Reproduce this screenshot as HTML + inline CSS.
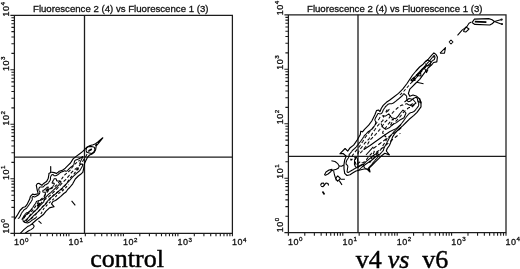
<!DOCTYPE html>
<html><head><meta charset="utf-8"><style>
html,body{margin:0;padding:0;background:#fff;width:520px;height:269px;overflow:hidden}
svg{display:block;filter:grayscale(1)}
.lb{font-family:"Liberation Sans",sans-serif;font-size:9px;letter-spacing:0.5px;fill:#111;stroke:#111;stroke-width:0.3px}
.sp{font-size:6.2px}
.tt{font-family:"Liberation Sans",sans-serif;font-size:9.65px;fill:#111;stroke:#111;stroke-width:0.3px}
.cap{font-family:"Liberation Serif",serif;font-size:26px;fill:#000;stroke:#000;stroke-width:0.45px}
</style></head><body>
<svg width="520" height="269" viewBox="0 0 520 269">
<defs><clipPath id="clipL"><rect x="14.4" y="15" width="218" height="218.3"/></clipPath><clipPath id="clipL2"><path d="M0 0H240V240H44V222L38 221L33 222.5L28 224L24 222.5L21 219L14.4 218.5L0 218Z"/></clipPath><clipPath id="clipR"><rect x="288.4" y="15" width="218" height="218.3"/></clipPath></defs>
<g>
<path d="M10.40 15.25H232.40V233.35H10.40M14.40 14.65V236.35" stroke="#1c1c1c" stroke-width="1.25" fill="none"/>
<path d="M30.81 233.35v3M14.40 216.94h-3M40.40 233.35v3M14.40 207.33h-3M47.21 233.35v3M14.40 200.52h-3M52.49 233.35v3M14.40 195.24h-3M56.81 233.35v3M14.40 190.92h-3M60.46 233.35v3M14.40 187.27h-3M63.62 233.35v3M14.40 184.11h-3M66.41 233.35v3M14.40 181.32h-3M68.90 233.35v3M14.40 178.82h-4M85.31 233.35v3M14.40 162.41h-3M94.90 233.35v3M14.40 152.81h-3M101.71 233.35v3M14.40 146.00h-3M106.99 233.35v3M14.40 140.71h-3M111.31 233.35v3M14.40 136.40h-3M114.96 233.35v3M14.40 132.75h-3M118.12 233.35v3M14.40 129.58h-3M120.91 233.35v3M14.40 126.79h-3M123.40 233.35v3M14.40 124.30h-4M139.81 233.35v3M14.40 107.89h-3M149.40 233.35v3M14.40 98.28h-3M156.21 233.35v3M14.40 91.47h-3M161.49 233.35v3M14.40 86.19h-3M165.81 233.35v3M14.40 81.87h-3M169.46 233.35v3M14.40 78.22h-3M172.62 233.35v3M14.40 75.06h-3M175.41 233.35v3M14.40 72.27h-3M177.90 233.35v3M14.40 69.78h-4M194.31 233.35v3M14.40 53.36h-3M203.90 233.35v3M14.40 43.76h-3M210.71 233.35v3M14.40 36.95h-3M215.99 233.35v3M14.40 31.66h-3M220.31 233.35v3M14.40 27.35h-3M223.96 233.35v3M14.40 23.70h-3M227.12 233.35v3M14.40 20.53h-3M229.91 233.35v3M14.40 17.74h-3M232.40 233.35v3" stroke="#1c1c1c" stroke-width="1.1" fill="none"/>
<path d="M84.50 15.25V233.35M14.40 157.10H232.40" stroke="#1c1c1c" stroke-width="1.3" fill="none"/>
<text x="14.00" y="245.45" class="lb">10<tspan class="sp" dy="-3.8">0</tspan></text>
<text x="68.50" y="245.45" class="lb">10<tspan class="sp" dy="-3.8">1</tspan></text>
<text x="123.00" y="245.45" class="lb">10<tspan class="sp" dy="-3.8">2</tspan></text>
<text x="177.50" y="245.45" class="lb">10<tspan class="sp" dy="-3.8">3</tspan></text>
<text x="232.00" y="245.45" class="lb">10<tspan class="sp" dy="-3.8">4</tspan></text>
<text transform="translate(8.90 233.55) rotate(-90)" x="0" y="0" class="lb">10<tspan class="sp" dy="-3.8">0</tspan></text>
<text transform="translate(8.90 180.02) rotate(-90)" x="0" y="0" class="lb">10<tspan class="sp" dy="-3.8">1</tspan></text>
<text transform="translate(8.90 125.50) rotate(-90)" x="0" y="0" class="lb">10<tspan class="sp" dy="-3.8">2</tspan></text>
<text transform="translate(8.90 70.98) rotate(-90)" x="0" y="0" class="lb">10<tspan class="sp" dy="-3.8">3</tspan></text>
<text transform="translate(8.90 16.45) rotate(-90)" x="0" y="0" class="lb">10<tspan class="sp" dy="-3.8">4</tspan></text>
<text x="33.00" y="12.3" class="tt">Fluorescence 2 (4) vs Fluorescence 1 (3)</text>
<g clip-path="url(#clipL)"><path d="M14.4 219.5 L17.0 215.7 L20.0 210.5 L22.9 207.5 L25.2 206.8 L27.4 203.8 L29.6 199.3 L30.4 196.4 L32.6 194.1 L34.4 194.6 L38.2 193.7 L37.2 190.0 L36.3 185.3 L37.5 183.5 L39.1 183.4 L41.9 185.3 L43.7 183.4 L46.5 181.6 L48.2 178.5 L48.9 174.5 L48.9 173.4 L50.7 172.5 L50.7 166.5 L50.7 172.0 L54.1 172.6 L56.4 173.4 L57.8 172.6 L59.3 171.2 L62.3 170.4 L65.3 168.2 L68.3 165.2 L70.5 163.0 L73.1 158.9 L76.8 155.9 L79.8 153.7 L82.8 151.4 L85.0 149.2 L87.2 147.0 L90.2 145.5 L93.2 144.7 L95.5 143.8 L97.6 142.3 L102.8 137.8 L98.2 143.6 L96.2 146.0 L95.6 149.7 L94.0 152.6 L91.6 154.2 L89.5 155.0 L87.4 157.4 L85.9 160.4 L84.6 163.3 L83.8 167.8 L82.8 172.3 L81.3 173.7 L78.3 176.0 L75.3 179.0 L72.7 183.8 L69.7 187.5 L67.5 189.7 L66.0 192.0 L63.8 193.5 L60.8 196.4 L57.8 198.7 L55.5 200.5 L53.0 201.5 L51.5 203.9 L54.0 206.7 L50.2 207.6 L49.0 208.3 L46.0 211.2 L43.7 214.2 L40.0 217.2 L36.3 220.0 L33.5 222.5 L31.6 224.2 L29.9 225.4 L27.5 226.6 L23.9 229.6 L20.3 233.3" fill="none" stroke="#000" stroke-width="1.1550000000000002" stroke-linejoin="round"/>
<g clip-path="url(#clipL2)">
<path d="M88.5 151.3 L88.2 151.2 L88.4 151.0 L88.6 150.8 L88.8 150.5 L89.1 150.2 L89.5 150.0 L89.8 149.9 L90.0 149.8 L90.4 149.5 L90.8 149.3 L91.0 149.2 L91.2 149.0 L91.6 149.0 L91.5 149.3 L91.3 149.8 L91.0 150.0 L90.8 150.2 L90.5 150.3 L90.0 150.5 L89.8 150.7 L89.5 150.8 L89.1 151.0 L88.8 151.2 L88.5 151.3 L88.5 151.3" fill="none" stroke="#000" stroke-width="1.05" stroke-linejoin="round"/>
<path d="M16.0 230.5 L15.5 230.6 L15.0 230.7 L14.5 230.5 L14.4 230.2 L14.5 229.8 L14.5 229.5 L14.7 229.0 L14.8 228.8 L15.0 228.3 L15.1 228.0 L15.3 227.8 L15.5 227.2 L15.6 227.0 L15.8 226.7 L15.9 226.2 L16.0 226.0 L16.2 225.5 L16.3 225.2 L16.4 224.8 L16.4 224.2 L16.3 223.8 L16.2 223.5 L16.2 223.0 L16.2 222.6 L16.3 222.2 L16.5 221.8 L16.6 221.5 L16.7 221.0 L16.8 220.8 L17.0 220.4 L17.2 220.1 L17.5 219.8 L17.7 219.5 L17.9 219.2 L18.1 219.0 L18.4 218.8 L18.6 218.5 L18.8 218.2 L19.0 217.9 L19.2 217.6 L19.5 217.2 L19.7 217.0 L19.9 216.8 L20.0 216.4 L20.2 216.0 L20.4 215.8 L20.5 215.5 L20.7 215.0 L20.8 214.8 L21.0 214.4 L21.2 214.0 L21.2 213.7 L21.5 213.3 L21.7 213.0 L21.8 212.8 L22.0 212.4 L22.2 212.1 L22.5 211.8 L22.8 211.5 L23.0 211.2 L23.2 211.0 L23.4 210.8 L23.5 210.5 L23.8 210.2 L24.0 209.9 L24.2 209.7 L24.6 209.5 L25.0 209.2 L25.2 209.1 L25.5 209.0 L25.9 208.8 L26.2 208.5 L26.5 208.3 L26.7 208.0 L26.9 207.8 L27.1 207.5 L27.2 207.2 L27.5 206.9 L27.8 206.5 L27.9 206.2 L28.2 206.0 L28.3 205.8 L28.5 205.5 L28.8 205.2 L29.0 204.8 L29.2 204.5 L29.4 204.2 L29.5 204.0 L29.8 203.7 L30.0 203.3 L30.2 203.0 L30.4 202.8 L30.5 202.5 L30.8 202.1 L31.0 201.8 L31.2 201.5 L31.3 201.2 L31.5 201.0 L31.8 200.6 L31.9 200.2 L32.0 200.0 L32.2 199.5 L32.3 199.2 L32.3 198.8 L32.2 198.4 L32.1 198.0 L32.1 197.5 L32.2 197.2 L32.5 196.9 L32.8 196.6 L33.0 196.4 L33.5 196.5 L33.8 196.7 L34.0 196.9 L34.5 197.0 L35.0 196.8 L35.2 196.7 L35.7 196.5 L36.0 196.3 L36.2 196.2 L36.6 196.0 L37.0 195.8 L37.2 195.6 L37.5 195.5 L37.9 195.2 L38.2 195.0 L38.5 194.8 L38.8 194.6 L39.0 194.3 L39.2 194.0 L39.4 193.8 L39.5 193.5 L39.7 193.0 L39.8 192.7 L39.8 192.2 L39.8 191.8 L39.8 191.4 L39.5 191.1 L39.2 190.8 L39.0 190.5 L38.9 190.2 L38.8 189.8 L38.7 189.5 L38.8 189.2 L38.9 188.8 L39.0 188.5 L39.2 188.0 L39.3 187.8 L39.5 187.4 L39.8 187.2 L40.2 187.1 L40.8 187.0 L41.0 187.0 L41.5 186.9 L42.0 186.9 L42.5 187.0 L42.8 187.0 L43.0 186.9 L43.3 186.8 L43.6 186.5 L43.9 186.2 L44.1 186.0 L44.3 185.8 L44.5 185.3 L44.8 185.1 L45.0 185.0 L45.5 184.8 L45.8 184.7 L46.2 184.5 L46.5 184.3 L46.8 184.1 L47.0 184.0 L47.5 183.8 L47.8 183.5 L48.0 183.3 L48.2 183.1 L48.5 182.8 L48.7 182.5 L48.8 182.2 L49.0 182.0 L49.2 181.6 L49.5 181.3 L49.6 181.0 L49.8 180.8 L50.0 180.4 L50.2 180.0 L50.4 179.8 L50.4 179.2 L50.6 179.0 L50.5 178.6 L50.4 178.2 L50.4 177.8 L50.5 177.2 L50.5 177.0 L50.7 176.5 L50.9 176.2 L51.0 176.0 L51.2 175.5 L51.4 175.2 L51.6 175.0 L52.0 174.8 L52.2 174.7 L52.8 174.6 L53.2 174.7 L53.5 174.9 L53.7 175.2 L53.9 175.5 L54.2 175.8 L54.5 175.8 L55.0 175.8 L55.5 175.8 L55.8 175.7 L56.2 175.5 L56.5 175.4 L56.8 175.2 L57.2 175.0 L57.5 174.9 L57.8 174.7 L58.0 174.5 L58.4 174.2 L58.7 174.0 L59.0 173.8 L59.2 173.5 L59.5 173.2 L59.7 173.0 L60.0 172.8 L60.2 172.6 L60.5 172.5 L60.9 172.2 L61.2 172.1 L61.5 172.0 L62.0 171.8 L62.3 171.8 L62.8 171.5 L63.0 171.5 L63.5 171.3 L63.8 171.2 L64.1 171.0 L64.5 170.8 L65.0 170.8 L65.4 171.0 L65.8 171.2 L66.0 171.3 L66.2 171.2 L66.8 171.1 L67.0 170.9 L67.3 170.8 L67.5 170.5 L67.8 170.2 L68.0 170.0 L68.2 169.7 L68.5 169.5 L68.8 169.2 L69.0 168.9 L69.2 168.7 L69.5 168.4 L69.8 168.2 L70.0 167.9 L70.2 167.7 L70.5 167.5 L70.8 167.2 L71.0 167.0 L71.4 166.8 L71.8 166.6 L72.0 166.4 L72.2 166.2 L72.5 165.9 L72.8 165.7 L73.0 165.5 L73.2 165.2 L73.5 164.8 L73.7 164.5 L73.8 164.2 L73.9 163.8 L74.1 163.5 L74.2 163.2 L74.2 162.8 L74.2 162.7 L74.3 162.2 L74.4 161.8 L74.5 161.4 L74.8 161.1 L74.8 160.8 L74.8 160.7 L75.0 160.4 L75.4 160.2 L75.8 160.1 L76.0 159.9 L76.2 159.7 L76.5 159.8 L76.8 159.7 L77.2 159.5 L77.5 159.4 L77.8 159.2 L78.2 159.1 L78.5 159.0 L79.0 158.8 L79.2 158.6 L79.5 158.5 L80.0 158.2 L80.2 158.1 L80.5 157.9 L80.8 157.8 L81.2 157.5 L81.5 157.3 L81.8 157.1 L82.0 157.0 L82.3 156.8 L82.7 156.5 L82.9 156.5 L82.8 156.9 L82.6 157.2 L82.4 157.5 L82.2 157.9 L82.1 158.2 L82.0 158.5 L81.8 159.0 L81.6 159.2 L81.5 159.5 L81.2 159.9 L81.1 160.2 L81.0 160.5 L80.8 160.9 L80.6 161.2 L80.5 161.5 L80.2 162.0 L80.1 162.2 L80.0 162.7 L79.9 163.0 L79.8 163.5 L79.8 164.0 L80.1 164.2 L80.5 164.3 L81.0 164.3 L81.2 164.2 L81.8 164.2 L82.2 164.1 L82.8 164.2 L82.9 164.5 L82.8 165.0 L82.7 165.2 L82.5 165.8 L82.4 166.0 L82.2 166.3 L82.0 166.8 L81.9 167.0 L81.8 167.3 L81.5 167.7 L81.3 168.0 L81.2 168.2 L81.0 168.5 L80.8 169.0 L80.6 169.2 L80.5 169.5 L80.2 169.9 L80.0 170.2 L79.9 170.5 L79.6 170.8 L79.3 171.0 L79.0 171.2 L78.8 171.5 L78.5 171.7 L78.2 171.9 L78.0 172.1 L77.8 172.3 L77.5 172.5 L77.2 172.8 L76.9 173.0 L76.6 173.2 L76.3 173.5 L76.1 173.8 L75.8 174.0 L75.6 174.2 L75.3 174.5 L75.0 174.8 L74.8 175.0 L74.5 175.2 L74.2 175.5 L74.0 175.7 L73.8 175.9 L73.5 176.2 L73.2 176.4 L73.0 176.6 L72.8 176.9 L72.5 177.1 L72.2 177.4 L72.0 177.6 L71.8 177.9 L71.5 178.2 L71.3 178.5 L71.1 178.8 L70.8 179.0 L70.6 179.2 L70.4 179.5 L70.2 179.8 L70.0 180.0 L69.7 180.2 L69.5 180.5 L69.2 180.8 L69.0 181.1 L68.8 181.4 L68.5 181.7 L68.2 181.9 L68.0 182.2 L67.8 182.4 L67.5 182.7 L67.2 182.9 L67.0 183.2 L66.8 183.4 L66.5 183.7 L66.2 184.0 L66.0 184.2 L65.8 184.5 L65.5 184.7 L65.2 184.9 L65.0 185.2 L64.8 185.4 L64.5 185.6 L64.2 185.9 L64.0 186.1 L63.8 186.4 L63.5 186.6 L63.2 186.9 L63.0 187.2 L62.8 187.4 L62.5 187.8 L62.3 188.0 L62.1 188.2 L61.8 188.5 L61.5 188.7 L61.2 188.9 L61.0 189.1 L60.8 189.3 L60.5 189.5 L60.2 189.8 L60.0 190.0 L59.7 190.2 L59.5 190.5 L59.2 190.8 L58.9 191.0 L58.6 191.2 L58.3 191.5 L58.1 191.8 L57.8 192.0 L57.5 192.2 L57.3 192.5 L57.0 192.7 L56.8 193.0 L56.5 193.2 L56.2 193.4 L56.0 193.6 L55.8 193.8 L55.5 194.0 L55.2 194.2 L54.9 194.5 L54.6 194.8 L54.4 195.0 L54.1 195.2 L53.8 195.5 L53.5 195.8 L53.2 196.0 L53.0 196.2 L52.8 196.4 L52.5 196.6 L52.2 196.8 L51.8 197.0 L51.5 197.2 L51.2 197.4 L51.0 197.5 L50.7 197.8 L50.4 198.0 L50.1 198.2 L49.8 198.5 L49.6 198.8 L49.3 199.0 L49.1 199.2 L48.9 199.5 L48.7 199.8 L48.5 200.0 L48.2 200.3 L48.0 200.6 L47.8 200.9 L47.5 201.2 L47.2 201.5 L47.1 201.8 L47.0 202.0 L46.8 202.5 L46.6 202.8 L46.5 203.0 L46.3 203.5 L46.0 203.8 L45.8 204.0 L45.5 204.2 L45.2 204.4 L45.0 204.6 L44.8 204.9 L44.5 205.1 L44.2 205.4 L44.0 205.6 L43.8 205.8 L43.5 206.0 L43.2 206.2 L43.0 206.5 L42.7 206.8 L42.5 207.0 L42.2 207.2 L42.0 207.5 L41.7 207.8 L41.5 208.0 L41.2 208.3 L41.0 208.6 L40.8 208.9 L40.5 209.2 L40.2 209.4 L40.0 209.7 L39.8 210.0 L39.6 210.2 L39.3 210.5 L39.0 210.8 L38.8 211.0 L38.5 211.2 L38.3 211.5 L38.0 211.8 L37.8 212.0 L37.5 212.2 L37.2 212.4 L37.0 212.6 L36.8 212.9 L36.5 213.2 L36.2 213.4 L36.0 213.6 L35.8 213.8 L35.5 214.0 L35.2 214.3 L35.0 214.5 L34.7 214.8 L34.4 215.0 L34.2 215.2 L33.9 215.5 L33.6 215.8 L33.3 216.0 L33.1 216.2 L32.8 216.5 L32.6 216.8 L32.4 217.0 L32.2 217.2 L31.9 217.5 L31.6 217.8 L31.3 218.0 L31.1 218.2 L30.9 218.5 L30.7 218.8 L30.4 219.0 L30.2 219.2 L29.9 219.5 L29.5 219.8 L29.2 220.0 L29.0 220.2 L28.8 220.3 L28.5 220.5 L28.2 220.8 L27.9 221.0 L27.6 221.2 L27.3 221.5 L27.0 221.7 L26.8 221.8 L26.5 222.0 L26.1 222.2 L25.8 222.5 L25.5 222.7 L25.2 222.9 L25.0 223.1 L24.8 223.3 L24.5 223.6 L24.2 223.8 L24.0 224.0 L23.7 224.2 L23.5 224.5 L23.2 224.8 L23.0 225.0 L22.7 225.2 L22.5 225.5 L22.2 225.8 L21.9 226.0 L21.6 226.2 L21.4 226.5 L21.2 226.8 L20.9 227.0 L20.7 227.2 L20.5 227.5 L20.2 227.8 L20.0 228.0 L19.8 228.3 L19.5 228.6 L19.2 228.9 L19.0 229.2 L18.9 229.5 L18.6 229.8 L18.2 229.9 L17.9 230.0 L17.5 230.2 L17.2 230.3 L16.8 230.4 L16.2 230.5 L16.0 230.5 L16.0 230.5" fill="none" stroke="#000" stroke-width="1.05" stroke-linejoin="round"/>
<path d="M77.2 170.1 L76.8 170.0 L76.9 169.5 L77.0 169.2 L77.2 169.0 L77.5 168.7 L78.0 168.7 L78.2 168.8 L78.3 169.2 L78.0 169.5 L77.8 169.7 L77.5 169.9 L77.2 170.1 L77.2 170.1" fill="none" stroke="#000" stroke-width="1.05" stroke-linejoin="round"/>
<path d="M19.5 226.3 L19.0 226.4 L18.6 226.2 L18.6 225.8 L18.7 225.2 L18.8 225.0 L19.0 224.5 L19.1 224.2 L19.2 223.9 L19.4 223.5 L19.5 223.2 L19.7 222.8 L19.8 222.5 L20.0 222.1 L20.1 221.8 L20.2 221.5 L20.5 221.1 L20.8 220.8 L21.0 220.5 L21.2 220.2 L21.4 220.0 L21.6 219.8 L21.8 219.5 L22.0 219.2 L22.2 218.8 L22.5 218.5 L22.6 218.2 L22.8 218.0 L23.0 217.5 L23.2 217.2 L23.3 217.0 L23.5 216.7 L23.7 216.2 L23.9 216.0 L24.1 215.8 L24.2 215.5 L24.5 215.1 L24.7 214.8 L25.0 214.5 L25.1 214.2 L25.4 214.0 L25.6 213.8 L25.9 213.5 L26.1 213.2 L26.4 213.0 L26.8 212.8 L27.0 212.7 L27.5 212.6 L27.8 212.5 L28.2 212.3 L28.5 212.1 L28.8 212.0 L29.1 211.8 L29.5 211.5 L29.8 211.3 L30.0 211.1 L30.2 210.8 L30.5 210.5 L30.7 210.2 L30.9 210.0 L31.1 209.8 L31.3 209.5 L31.5 209.2 L31.8 208.9 L32.0 208.5 L32.2 208.2 L32.4 208.0 L32.6 207.8 L32.8 207.5 L33.0 207.2 L33.2 206.8 L33.4 206.5 L33.6 206.2 L33.8 205.9 L34.0 205.5 L34.2 205.2 L34.4 205.0 L34.5 204.7 L34.8 204.4 L35.0 204.0 L35.2 203.8 L35.4 203.5 L35.5 203.2 L35.8 202.9 L36.0 202.5 L36.1 202.2 L36.3 202.0 L36.5 201.5 L36.8 201.4 L37.0 201.2 L37.5 201.1 L37.8 201.0 L38.2 200.8 L38.5 200.7 L38.9 200.5 L39.2 200.4 L39.8 200.3 L40.0 200.2 L40.5 200.2 L41.0 200.1 L41.2 200.0 L41.7 199.8 L42.0 199.6 L42.2 199.5 L42.7 199.2 L43.0 199.1 L43.2 198.9 L43.5 198.6 L43.8 198.3 L44.0 198.0 L44.2 197.8 L44.4 197.5 L44.6 197.2 L44.8 197.0 L44.9 196.5 L44.8 196.0 L44.8 195.5 L44.9 195.0 L45.0 194.7 L45.1 194.2 L45.2 193.9 L45.4 193.5 L45.4 193.0 L45.3 192.5 L45.0 192.2 L44.8 192.2 L44.2 192.2 L43.8 192.2 L43.2 192.1 L43.0 192.0 L42.8 191.5 L42.8 191.0 L42.9 190.5 L43.2 190.3 L43.5 190.2 L44.0 190.0 L44.2 189.9 L44.5 189.7 L44.8 189.5 L45.1 189.2 L45.4 189.0 L45.7 188.8 L45.9 188.5 L46.2 188.2 L46.4 188.0 L46.6 187.8 L46.8 187.5 L47.2 187.2 L47.5 187.2 L47.9 187.0 L48.2 187.0 L48.3 187.2 L48.2 187.5 L48.0 188.0 L47.9 188.2 L47.9 188.8 L47.6 189.0 L47.2 189.2 L47.0 189.4 L46.8 189.7 L46.5 189.9 L46.3 190.2 L46.2 190.5 L46.2 191.0 L46.5 191.0 L46.8 190.9 L47.1 190.8 L47.4 190.5 L47.7 190.2 L47.9 190.0 L48.1 189.8 L48.3 189.5 L48.8 189.4 L49.0 189.2 L49.4 189.0 L49.8 188.8 L50.0 188.7 L50.4 188.5 L50.7 188.2 L51.0 188.1 L51.2 187.9 L51.5 187.7 L51.8 187.5 L52.1 187.2 L52.3 187.0 L52.5 186.8 L52.8 186.5 L53.0 186.2 L53.2 185.8 L53.5 185.5 L53.7 185.2 L53.8 185.0 L54.0 184.5 L54.1 184.2 L54.2 183.8 L54.3 183.5 L54.1 183.2 L53.8 183.1 L53.2 183.1 L52.9 183.2 L52.5 183.3 L52.2 183.2 L52.1 182.8 L52.2 182.3 L52.4 182.0 L52.5 181.8 L52.8 181.4 L53.0 181.0 L53.1 180.8 L53.2 180.5 L53.5 180.0 L53.6 179.8 L53.8 179.5 L54.0 179.0 L54.2 178.8 L54.7 178.8 L55.0 178.7 L55.5 178.7 L55.8 178.8 L56.1 179.0 L56.3 179.2 L56.4 179.8 L56.5 180.2 L56.5 180.5 L56.8 180.8 L57.1 181.0 L57.5 181.1 L58.0 181.0 L58.5 181.0 L58.8 181.0 L59.2 181.0 L59.5 181.0 L60.0 181.2 L60.2 181.3 L60.5 181.5 L60.8 181.8 L61.1 182.0 L60.9 182.2 L60.7 182.5 L60.4 182.8 L60.2 183.0 L60.0 183.3 L59.8 183.7 L59.5 184.0 L59.3 184.2 L59.1 184.5 L59.0 184.8 L58.8 185.0 L58.5 185.4 L58.2 185.6 L58.0 185.8 L57.7 186.0 L57.4 186.2 L57.1 186.5 L56.9 186.8 L56.7 187.0 L56.5 187.2 L56.2 187.5 L55.9 187.8 L55.6 188.0 L55.3 188.2 L55.1 188.5 L54.9 188.8 L54.6 189.0 L54.4 189.2 L54.1 189.5 L53.8 189.8 L53.5 190.0 L53.3 190.2 L53.0 190.5 L52.8 190.7 L52.5 190.9 L52.2 191.2 L52.0 191.4 L51.8 191.6 L51.5 191.9 L51.2 192.2 L51.0 192.4 L50.8 192.7 L50.5 192.9 L50.2 193.0 L49.8 193.2 L49.5 193.5 L49.2 193.7 L49.0 193.9 L48.8 194.1 L48.5 194.3 L48.2 194.6 L48.0 194.8 L47.8 195.0 L47.5 195.3 L47.2 195.5 L47.0 195.8 L46.8 196.1 L46.5 196.5 L46.3 196.8 L46.1 197.0 L45.9 197.2 L45.8 197.5 L45.5 197.9 L45.3 198.2 L45.1 198.5 L44.9 198.8 L44.8 199.1 L44.5 199.4 L44.4 199.8 L44.2 200.0 L44.1 200.5 L44.0 200.9 L43.9 201.2 L43.8 201.8 L43.6 202.0 L43.3 202.2 L43.1 202.5 L42.9 202.8 L42.6 203.0 L42.4 203.2 L42.1 203.5 L41.8 203.8 L41.5 204.0 L41.3 204.2 L41.0 204.5 L40.8 204.8 L40.6 205.0 L40.3 205.2 L40.1 205.5 L39.9 205.8 L39.6 206.0 L39.4 206.2 L39.2 206.5 L39.0 206.8 L38.8 207.1 L38.5 207.3 L38.2 207.6 L38.0 207.9 L37.8 208.2 L37.5 208.5 L37.2 208.7 L37.0 208.9 L36.8 209.2 L36.5 209.4 L36.2 209.7 L36.0 209.9 L35.8 210.2 L35.5 210.4 L35.2 210.6 L35.0 210.9 L34.8 211.2 L34.5 211.4 L34.2 211.6 L34.0 211.9 L33.8 212.1 L33.5 212.4 L33.2 212.6 L33.0 212.9 L32.8 213.1 L32.5 213.4 L32.2 213.6 L32.0 213.9 L31.8 214.1 L31.5 214.4 L31.2 214.6 L31.0 214.9 L30.8 215.2 L30.5 215.5 L30.2 215.7 L30.0 216.0 L29.8 216.2 L29.5 216.5 L29.3 216.8 L29.0 217.0 L28.8 217.2 L28.5 217.5 L28.3 217.8 L28.0 218.0 L27.8 218.2 L27.5 218.5 L27.3 218.8 L27.0 219.0 L26.8 219.2 L26.5 219.5 L26.2 219.7 L26.0 219.9 L25.8 220.1 L25.5 220.4 L25.2 220.6 L25.0 220.8 L24.7 221.0 L24.5 221.2 L24.2 221.5 L24.0 221.8 L23.7 222.0 L23.4 222.2 L23.2 222.5 L22.9 222.8 L22.7 223.0 L22.4 223.2 L22.2 223.5 L21.9 223.8 L21.7 224.0 L21.4 224.2 L21.2 224.5 L20.9 224.8 L20.7 225.0 L20.4 225.2 L20.2 225.5 L20.0 225.8 L19.8 226.0 L19.5 226.3 L19.5 226.3" fill="none" stroke="#000" stroke-width="1.05" stroke-linejoin="round"/>
<path d="M23.7 218.4 L24.5 217.1 L25.4 215.9 L26.5 214.9 L27.7 213.9 L29.0 213.1 L30.3 212.3 L31.6 211.4 L32.7 210.3 L33.6 209.2 L34.5 207.9 L35.3 206.6 L36.1 205.3 L37.0 204.1 L37.8 202.8 L38.7 201.6 L39.8 200.5 L40.9 199.5 L42.0 198.5 L43.1 197.5 L44.0 196.3 L45.0 195.1 L45.9 193.8 L46.8 192.6 L47.8 191.4 L48.8 190.3 L50.0 189.4 L51.3 188.6 L52.7 187.8 L54.0 187.1 L55.3 186.2 L56.4 185.2 L57.4 184.1 L58.4 182.9 L59.3 181.7 L60.3 180.6 L61.3 179.5 L62.1 178.4 L62.9 177.2 L63.8 175.9 L64.8 174.8 L65.9 173.8 L67.1 172.8 L68.3 171.9 L69.5 170.9 L70.5 169.8 L71.3 168.6 L72.2 167.3 L73.1 166.1 L74.1 165.0 L75.2 163.9 L76.3 162.9 L77.4 162.0 L78.6 161.1 L79.7 160.1" fill="none" stroke="#000" stroke-width="1.05" stroke-linejoin="round" stroke-dasharray="3.2 1.8"/>
<path d="M22.1 225.1 L23.1 224.0 L24.2 222.9 L25.2 221.8 L26.2 220.7 L27.1 219.5 L27.9 218.2 L28.7 216.9 L29.6 215.7 L30.5 214.5 L31.5 213.4 L32.7 212.4 L34.0 211.5 L35.2 210.7 L36.4 209.7 L37.4 208.6 L38.2 207.3 L39.1 206.0 L39.9 204.7 L40.7 203.5 L41.7 202.3 L42.7 201.3 L43.9 200.3 L45.1 199.4 L46.4 198.5 L47.6 197.6 L48.8 196.7 L49.9 195.7 L51.0 194.7 L52.1 193.6 L53.1 192.5 L54.2 191.5 L55.3 190.4 L56.3 189.4 L57.4 188.3 L58.4 187.2 L59.4 186.1 L60.4 185.0 L61.4 183.9 L62.5 182.8 L63.6 181.7 L64.6 180.7 L65.7 179.6 L66.7 178.5 L67.6 177.3 L68.6 176.2 L69.5 175.0 L70.5 173.8 L71.4 172.7 L72.4 171.6 L73.5 170.5 L74.7 169.5 L75.9 168.6 L77.1 167.7 L78.3 166.7 L79.3 165.7 L80.4 164.5 L81.3 163.3 L82.2 162.1 L83.0 160.8 L83.8 159.6 L84.7 158.3 L85.5 157.0 L86.2 155.7 L86.9 154.3 L87.5 152.9" fill="none" stroke="#000" stroke-width="1.05" stroke-linejoin="round" stroke-dasharray="3.5 2"/>
<path d="M31.1 219.1 L32.1 217.9 L33.1 216.8 L34.2 215.8 L35.3 214.8 L36.3 213.8 L37.4 212.7 L38.3 211.5 L39.3 210.4 L40.3 209.2 L41.3 208.1 L42.2 207.0 L43.2 205.9 L44.2 204.7 L45.3 203.7 L46.4 202.7 L47.6 201.7 L48.7 200.7 L49.8 199.7 L50.7 198.5 L51.6 197.3 L52.5 196.1 L53.5 195.0 L54.7 194.1 L55.9 193.2 L57.2 192.3 L58.5 191.5 L59.8 190.7 L61.1 189.9 L62.3 189.0 L63.4 187.9 L64.3 186.7 L65.2 185.5 L66.0 184.2 L66.9 182.8 L67.8 181.5 L68.6 180.2 L69.5 179.0 L70.4 177.8 L71.4 176.7 L72.5 175.6 L73.5 174.5 L74.5 173.4 L75.3 172.1 L76.2 170.9 L77.0 169.6 L78.0 168.4 L79.0 167.3" fill="none" stroke="#000" stroke-width="1.05" stroke-linejoin="round" stroke-dasharray="3 2.2"/>
<path d="M40.9 214.0 L41.7 212.6 L42.4 211.2 L43.1 209.8 L43.9 208.5 L44.8 207.4 L45.9 206.3 L46.9 205.2 L48.0 204.1 L49.0 203.1 L50.1 202.0 L51.2 201.0 L52.3 200.1 L53.4 199.2 L54.5 198.1 L55.4 197.0 L56.4 195.8 L57.4 194.7 L58.5 193.7 L59.7 192.7 L61.0 191.9 L62.2 191.0 L63.3 190.0 L64.4 189.0 L65.5 187.9 L66.5 186.8 L67.6 185.7 L68.9 184.6" fill="none" stroke="#000" stroke-width="1.05" stroke-linejoin="round" stroke-dasharray="2.5 2"/>
</g>
<path d="M25.1 233.3 L28.7 230.8 L31.0 229.6 L33.4 227.8 L34.2 226.0 L33.0 224.6 L31.6 224.2" fill="none" stroke="#000" stroke-width="1.05" stroke-linejoin="round"/>
<path d="M32.2 208.8 L29.9 211.1 L27.5 213.5 L25.1 215.9 L22.7 218.9 L23.3 221.3 L25.1 222.5 L27.5 223.0 L29.9 221.9 L32.2 220.1 L35.2 218.3 L37.0 216.5" fill="none" stroke="#000" stroke-width="1.05" stroke-linejoin="round"/>
<path d="M86.0 150.4 L86.7 147.8 L88.6 146.6 L91.7 146.6 L94.3 147.2 L94.9 149.7 L93.6 152.3 L91.7 153.5 L89.2 152.9 L86.7 152.3 L86.0 150.4" fill="none" stroke="#000" stroke-width="1.05" stroke-linejoin="round"/>
<ellipse cx="96.2" cy="144.9" rx="1.3" ry="0.9" transform="rotate(-40 96.2 144.9)" fill="#000"/>
<ellipse cx="38.6" cy="204.8" rx="1.3" ry="2.2" transform="rotate(40 38.6 204.8)" fill="#000"/>
<path d="M71.6 200.9 L75.3 205.4" fill="none" stroke="#000" stroke-width="1.05" stroke-linejoin="round"/>
<path d="M38.5 220.8 L41.5 223.7" fill="none" stroke="#000" stroke-width="1.05" stroke-linejoin="round"/></g>
</g>
<g transform="translate(0 0)">
<path d="M284.40 14.85H506.00V232.65H284.40M288.40 14.25V235.65" stroke="#1c1c1c" stroke-width="1.25" fill="none"/>
<path d="M304.78 232.65v3M288.40 216.26h-3M314.36 232.65v3M288.40 206.67h-3M321.15 232.65v3M288.40 199.87h-3M326.42 232.65v3M288.40 194.59h-3M330.73 232.65v3M288.40 190.28h-3M334.37 232.65v3M288.40 186.63h-3M337.53 232.65v3M288.40 183.48h-3M340.31 232.65v3M288.40 180.69h-3M342.80 232.65v3M288.40 178.20h-4M359.18 232.65v3M288.40 161.81h-3M368.76 232.65v3M288.40 152.22h-3M375.55 232.65v3M288.40 145.42h-3M380.82 232.65v3M288.40 140.14h-3M385.13 232.65v3M288.40 135.83h-3M388.77 232.65v3M288.40 132.18h-3M391.93 232.65v3M288.40 129.03h-3M394.71 232.65v3M288.40 126.24h-3M397.20 232.65v3M288.40 123.75h-4M413.58 232.65v3M288.40 107.36h-3M423.16 232.65v3M288.40 97.77h-3M429.95 232.65v3M288.40 90.97h-3M435.22 232.65v3M288.40 85.69h-3M439.53 232.65v3M288.40 81.38h-3M443.17 232.65v3M288.40 77.73h-3M446.33 232.65v3M288.40 74.58h-3M449.11 232.65v3M288.40 71.79h-3M451.60 232.65v3M288.40 69.30h-4M467.98 232.65v3M288.40 52.91h-3M477.56 232.65v3M288.40 43.32h-3M484.35 232.65v3M288.40 36.52h-3M489.62 232.65v3M288.40 31.24h-3M493.93 232.65v3M288.40 26.93h-3M497.57 232.65v3M288.40 23.28h-3M500.73 232.65v3M288.40 20.13h-3M503.51 232.65v3M288.40 17.34h-3M506.00 232.65v3" stroke="#1c1c1c" stroke-width="1.1" fill="none"/>
<path d="M358.00 14.85V232.65M288.40 156.30H506.00" stroke="#1c1c1c" stroke-width="1.3" fill="none"/>
<text x="288.00" y="244.55" class="lb">10<tspan class="sp" dy="-3.8">0</tspan></text>
<text x="342.40" y="244.55" class="lb">10<tspan class="sp" dy="-3.8">1</tspan></text>
<text x="396.80" y="244.55" class="lb">10<tspan class="sp" dy="-3.8">2</tspan></text>
<text x="451.20" y="244.55" class="lb">10<tspan class="sp" dy="-3.8">3</tspan></text>
<text x="505.60" y="244.55" class="lb">10<tspan class="sp" dy="-3.8">4</tspan></text>
<text transform="translate(282.90 232.15) rotate(-90)" x="0" y="0" class="lb">10<tspan class="sp" dy="-3.8">0</tspan></text>
<text transform="translate(282.90 178.70) rotate(-90)" x="0" y="0" class="lb">10<tspan class="sp" dy="-3.8">1</tspan></text>
<text transform="translate(282.90 124.25) rotate(-90)" x="0" y="0" class="lb">10<tspan class="sp" dy="-3.8">2</tspan></text>
<text transform="translate(282.90 69.80) rotate(-90)" x="0" y="0" class="lb">10<tspan class="sp" dy="-3.8">3</tspan></text>
<text transform="translate(282.90 15.35) rotate(-90)" x="0" y="0" class="lb">10<tspan class="sp" dy="-3.8">4</tspan></text>
<text x="307.00" y="12.3" class="tt">Fluorescence 2 (4) vs Fluorescence 1 (3)</text>
<g clip-path="url(#clipR)"><path d="M344.7 173.3 L344.0 168.8 L344.0 164.4 L344.7 159.9 L346.2 156.2 L343.4 153.7 L340.0 153.7 L345.1 148.5 L347.7 151.1 L350.2 147.7 L353.6 145.1 L355.4 142.6 L357.5 139.5 L360.3 134.5 L360.8 131.2 L362.5 131.8 L364.5 129.3 L368.7 125.2 L371.8 121.0 L374.9 114.8 L376.5 110.6 L378.5 110.0 L380.0 111.6 L381.2 108.5 L383.2 105.4 L386.4 102.3 L389.5 100.2 L392.8 97.7 L398.5 93.4 L402.7 89.2 L407.0 83.5 L409.8 79.3 L412.6 75.0 L416.0 71.0 L419.6 67.0 L423.1 64.2 L425.5 61.5 L428.0 59.5 L431.5 55.3 L433.9 52.9 L436.0 54.5 L437.4 57.1 L436.8 61.9 L433.5 62.5 L432.0 64.5 L428.1 68.0 L423.9 73.7 L419.7 79.3 L415.4 83.5 L412.6 86.4 L409.8 89.2 L408.4 93.4 L409.8 96.3 L413.0 95.0 L416.8 96.3 L419.0 98.5 L421.0 102.0 L421.0 106.8 L417.0 112.3 L413.9 115.4 L409.2 119.3 L406.0 122.5 L402.9 125.6 L399.5 128.5 L396.5 131.5 L394.5 134.0 L392.6 136.9 L391.0 141.6 L389.4 145.5 L387.1 148.7 L386.3 151.0 L389.4 154.9 L384.8 153.3 L381.6 155.7 L378.5 158.8 L375.4 161.9 L372.3 165.0 L369.1 168.0 L370.0 172.0 L367.0 169.0 L364.0 169.0 L360.0 170.0 L356.0 171.0 L353.0 172.8 L350.0 174.8 L347.0 175.5 Z" fill="none" stroke="#000" stroke-width="1.1550000000000002" stroke-linejoin="round"/>
<path d="M412.0 82.1 L412.0 81.8 L412.1 81.5 L412.3 81.2 L412.5 80.9 L412.8 80.5 L412.9 80.2 L413.1 80.0 L413.2 79.7 L413.5 79.3 L413.7 79.0 L413.8 78.7 L414.0 78.3 L414.2 78.0 L414.4 77.8 L414.5 77.5 L414.8 77.1 L415.0 76.8 L415.2 76.6 L415.5 76.2 L415.7 76.0 L415.9 75.8 L416.1 75.5 L416.3 75.2 L416.6 75.0 L416.9 74.8 L417.1 74.5 L417.3 74.2 L417.5 74.0 L417.8 73.7 L418.0 73.4 L418.2 73.2 L418.5 72.9 L418.8 72.7 L419.0 72.4 L419.2 72.1 L419.5 71.8 L419.7 71.5 L420.0 71.2 L420.2 71.0 L420.5 70.8 L420.7 70.5 L420.9 70.2 L421.1 70.0 L421.3 69.8 L421.5 69.4 L421.8 69.2 L422.0 69.0 L422.3 68.8 L422.6 68.5 L422.9 68.2 L423.1 68.0 L423.3 67.8 L423.6 67.5 L423.9 67.2 L424.1 67.0 L424.4 66.8 L424.6 66.5 L424.8 66.2 L425.0 66.0 L425.2 65.7 L425.5 65.4 L425.8 65.1 L426.0 64.8 L426.2 64.5 L426.5 64.2 L426.7 64.0 L426.9 63.8 L427.1 63.5 L427.3 63.2 L427.6 63.0 L427.9 62.8 L428.1 62.5 L428.3 62.2 L428.5 62.0 L428.8 61.8 L429.1 61.5 L429.3 61.2 L429.5 61.0 L429.8 60.7 L430.0 60.4 L430.2 60.0 L430.4 59.8 L430.6 59.5 L430.9 59.2 L431.1 59.0 L431.3 58.8 L431.5 58.4 L431.8 58.1 L432.0 57.8 L432.2 57.5 L432.5 57.2 L432.7 57.0 L432.8 56.8 L433.1 56.5 L433.3 56.2 L433.5 56.0 L433.8 55.8 L434.2 55.6 L434.5 55.8 L434.7 56.2 L434.8 56.5 L434.9 57.0 L435.0 57.5 L434.8 58.0 L434.7 58.2 L434.6 58.8 L434.5 59.0 L434.3 59.5 L434.0 59.7 L433.8 59.9 L433.5 60.1 L433.2 60.2 L432.8 60.5 L432.5 60.7 L432.2 60.9 L432.0 61.1 L431.8 61.4 L431.5 61.7 L431.3 62.0 L431.2 62.2 L430.9 62.5 L430.7 62.8 L430.5 63.1 L430.2 63.4 L430.0 63.7 L429.8 63.8 L429.5 64.0 L429.2 64.2 L428.9 64.5 L428.6 64.8 L428.3 65.0 L428.1 65.2 L427.8 65.4 L427.5 65.5 L427.0 65.7 L426.8 65.9 L426.5 66.1 L426.2 66.3 L425.8 66.5 L425.5 66.8 L425.3 67.0 L425.1 67.2 L424.8 67.5 L424.5 67.8 L424.3 68.0 L424.1 68.2 L423.8 68.5 L423.5 68.7 L423.3 69.0 L423.0 69.2 L422.8 69.5 L422.6 69.8 L422.4 70.0 L422.2 70.2 L421.9 70.5 L421.7 70.8 L421.5 71.0 L421.2 71.3 L421.0 71.6 L420.8 71.9 L420.5 72.2 L420.3 72.5 L420.1 72.8 L419.9 73.0 L419.7 73.2 L419.5 73.5 L419.2 73.9 L419.0 74.2 L418.8 74.5 L418.6 74.8 L418.4 75.0 L418.2 75.2 L418.0 75.5 L417.8 75.9 L417.5 76.2 L417.3 76.5 L417.1 76.8 L416.9 77.0 L416.7 77.2 L416.5 77.5 L416.2 77.8 L416.0 78.0 L415.8 78.3 L415.5 78.6 L415.2 78.8 L415.0 79.1 L414.8 79.3 L414.5 79.6 L414.2 79.9 L414.0 80.1 L413.8 80.4 L413.5 80.6 L413.2 80.9 L413.0 81.1 L412.8 81.4 L412.5 81.6 L412.2 81.9 L412.0 82.1 L412.0 82.1" fill="none" stroke="#000" stroke-width="1.05" stroke-linejoin="round"/>
<path d="M348.0 172.5 L347.8 172.5 L347.5 172.2 L347.2 172.0 L347.1 171.5 L347.1 171.0 L347.2 170.5 L347.3 170.2 L347.4 169.8 L347.4 169.2 L347.5 168.8 L347.5 168.5 L347.6 168.0 L347.7 167.5 L347.8 167.1 L347.8 166.8 L347.8 166.3 L347.7 166.0 L347.5 165.5 L347.3 165.2 L347.0 165.0 L346.8 164.8 L346.5 164.6 L346.2 164.4 L346.1 164.0 L346.1 163.5 L346.1 163.0 L346.1 162.5 L346.2 162.0 L346.3 161.8 L346.5 161.2 L346.6 161.0 L346.7 160.5 L346.8 160.2 L347.0 160.0 L347.2 159.6 L347.5 159.2 L347.6 159.0 L347.8 158.8 L348.0 158.3 L348.2 158.0 L348.3 157.8 L348.5 157.5 L348.7 157.0 L348.8 156.8 L349.0 156.3 L349.1 156.0 L349.2 155.5 L349.2 155.0 L349.2 154.5 L349.2 154.2 L349.5 154.0 L349.8 153.8 L350.1 153.5 L350.3 153.2 L350.5 153.0 L350.8 152.7 L351.0 152.4 L351.2 152.1 L351.5 151.8 L351.7 151.5 L351.9 151.2 L352.0 151.0 L352.2 150.7 L352.5 150.4 L352.8 150.1 L353.0 149.9 L353.2 149.7 L353.5 149.5 L353.8 149.2 L354.1 149.0 L354.3 148.8 L354.6 148.5 L354.9 148.2 L355.2 148.0 L355.5 147.8 L355.7 147.5 L356.0 147.2 L356.2 147.0 L356.4 146.8 L356.6 146.5 L356.8 146.2 L357.0 145.9 L357.2 145.6 L357.5 145.3 L357.7 145.0 L357.9 144.8 L358.1 144.5 L358.3 144.2 L358.5 144.0 L358.8 143.6 L359.0 143.3 L359.2 143.0 L359.5 142.8 L359.7 142.5 L359.9 142.2 L360.1 142.0 L360.3 141.8 L360.5 141.5 L360.8 141.2 L361.0 140.8 L361.2 140.5 L361.3 140.2 L361.5 140.0 L361.8 139.7 L362.0 139.3 L362.2 139.0 L362.4 138.8 L362.6 138.5 L362.8 138.2 L363.0 137.9 L363.2 137.5 L363.4 137.2 L363.6 137.0 L363.8 136.7 L364.0 136.2 L364.1 136.0 L364.2 135.6 L364.5 135.5 L364.8 135.2 L365.1 135.0 L365.4 134.8 L365.6 134.5 L365.9 134.2 L366.1 134.0 L366.3 133.8 L366.5 133.5 L366.8 133.2 L367.0 133.0 L367.2 132.7 L367.5 132.4 L367.8 132.1 L368.0 131.9 L368.2 131.7 L368.6 131.5 L368.9 131.2 L369.2 131.1 L369.5 130.9 L369.8 130.8 L370.1 130.5 L370.4 130.2 L370.6 130.0 L371.0 129.8 L371.2 129.6 L371.5 129.4 L371.8 129.2 L372.0 129.0 L372.3 128.8 L372.6 128.5 L372.8 128.2 L373.0 128.0 L373.2 127.7 L373.5 127.3 L373.7 127.0 L373.9 126.8 L374.0 126.5 L374.2 126.1 L374.5 125.8 L374.7 125.5 L374.8 125.2 L375.0 124.9 L375.2 124.5 L375.3 124.2 L375.5 123.8 L375.6 123.5 L375.7 123.0 L375.8 122.6 L375.8 122.4 L375.7 122.0 L375.6 121.5 L375.5 121.1 L375.2 120.8 L375.0 120.5 L375.0 120.5 L375.0 120.2 L374.9 119.8 L375.0 119.2 L375.1 119.0 L375.2 118.6 L375.4 118.2 L375.6 118.0 L375.8 117.6 L375.9 117.2 L376.1 117.0 L376.2 116.7 L376.5 116.2 L376.7 116.0 L376.8 115.6 L377.0 115.2 L377.1 115.0 L377.3 114.8 L377.5 114.2 L377.6 114.0 L377.8 113.8 L378.0 113.4 L378.5 113.5 L378.8 113.6 L379.2 113.8 L379.5 113.8 L380.0 113.9 L380.5 113.8 L380.8 113.7 L381.2 113.5 L381.5 113.3 L381.8 113.1 L382.0 112.8 L382.2 112.5 L382.4 112.2 L382.5 111.8 L382.6 111.5 L382.8 111.2 L383.0 110.8 L383.0 110.5 L383.2 110.1 L383.4 109.8 L383.6 109.5 L383.8 109.2 L384.0 108.8 L384.2 108.5 L384.4 108.2 L384.6 108.0 L384.8 107.8 L385.0 107.4 L385.2 107.0 L385.5 106.8 L385.7 106.5 L385.9 106.2 L386.2 106.0 L386.5 105.8 L386.8 105.5 L387.0 105.3 L387.2 105.0 L387.5 104.8 L387.8 104.5 L388.0 104.3 L388.2 104.2 L388.6 104.0 L389.0 103.9 L389.4 103.8 L389.8 103.7 L390.2 103.7 L390.5 103.8 L391.0 103.8 L391.5 103.8 L391.8 103.7 L392.2 103.6 L392.5 103.4 L392.9 103.2 L393.2 103.0 L393.5 102.9 L393.8 102.7 L394.1 102.5 L394.4 102.2 L394.8 102.0 L395.0 101.8 L395.2 101.6 L395.5 101.4 L395.8 101.2 L396.0 101.0 L396.3 100.8 L396.6 100.5 L396.9 100.2 L397.2 100.0 L397.5 99.8 L397.8 99.6 L398.0 99.4 L398.2 99.2 L398.5 99.0 L398.8 98.8 L399.1 98.5 L399.4 98.2 L399.7 98.0 L400.0 97.8 L400.2 97.5 L400.5 97.3 L400.8 97.1 L401.0 96.9 L401.2 96.7 L401.5 96.4 L401.8 96.2 L402.0 95.9 L402.2 95.6 L402.5 95.3 L402.8 95.1 L403.0 94.8 L403.2 94.5 L403.5 94.2 L403.7 94.0 L403.8 93.8 L404.2 93.7 L404.4 94.0 L404.5 94.2 L404.8 94.5 L405.1 94.8 L405.5 95.0 L405.8 95.1 L406.0 95.3 L406.2 95.6 L406.5 96.0 L406.6 96.2 L406.7 96.8 L406.7 97.2 L406.7 97.8 L406.7 98.2 L406.8 98.5 L406.8 99.0 L406.9 99.5 L407.0 99.8 L407.1 100.2 L407.2 100.6 L407.5 101.0 L407.7 101.2 L408.0 101.5 L408.2 101.6 L408.8 101.7 L409.2 101.6 L409.6 101.5 L410.0 101.3 L410.2 101.1 L410.5 100.9 L410.8 100.8 L411.1 100.5 L411.4 100.2 L411.7 100.0 L412.0 99.8 L412.2 99.5 L412.5 99.2 L412.8 99.0 L413.0 98.8 L413.2 98.6 L413.5 98.5 L413.9 98.2 L414.2 98.0 L414.5 97.9 L414.9 97.8 L415.2 97.6 L415.5 97.5 L416.0 97.4 L416.5 97.5 L416.8 97.7 L417.0 98.0 L417.1 98.2 L417.2 98.6 L417.4 99.0 L417.5 99.4 L417.6 99.8 L417.6 100.2 L417.7 100.8 L417.8 101.2 L417.9 101.5 L418.0 101.8 L418.2 102.1 L418.4 102.5 L418.6 102.8 L418.7 103.2 L418.7 103.8 L418.7 104.2 L418.7 104.8 L418.6 105.2 L418.6 105.8 L418.5 106.0 L418.2 106.3 L418.0 106.6 L417.8 107.0 L417.5 107.2 L417.3 107.5 L417.2 107.8 L417.0 108.0 L416.8 108.3 L416.5 108.7 L416.2 109.0 L416.0 109.2 L415.8 109.5 L415.7 109.8 L415.4 110.0 L415.2 110.2 L415.0 110.5 L414.8 110.8 L414.5 111.0 L414.2 111.3 L413.9 111.5 L413.5 111.7 L413.2 111.8 L413.0 112.0 L412.5 112.2 L412.2 112.3 L411.8 112.4 L411.5 112.5 L411.0 112.6 L410.5 112.8 L410.2 112.9 L410.0 113.0 L409.7 113.2 L409.4 113.5 L409.1 113.8 L408.8 114.0 L408.6 114.2 L408.3 114.5 L408.1 114.8 L407.9 115.0 L407.6 115.2 L407.4 115.5 L407.2 115.8 L407.0 116.0 L406.8 116.3 L406.5 116.6 L406.2 117.0 L406.0 117.2 L405.9 117.5 L405.7 117.8 L405.5 118.0 L405.2 118.3 L405.0 118.8 L404.9 119.0 L404.7 119.2 L404.5 119.6 L404.2 119.9 L404.0 120.2 L403.8 120.5 L403.7 120.8 L403.5 121.0 L403.2 121.3 L403.0 121.6 L402.8 121.9 L402.5 122.2 L402.3 122.5 L402.1 122.8 L401.9 123.0 L401.7 123.2 L401.5 123.5 L401.2 123.9 L401.0 124.2 L400.8 124.5 L400.6 124.8 L400.4 125.0 L400.1 125.2 L399.9 125.5 L399.6 125.8 L399.4 126.0 L399.2 126.2 L399.0 126.5 L398.7 126.8 L398.5 127.0 L398.2 127.3 L398.0 127.6 L397.8 127.8 L397.5 128.1 L397.2 128.3 L397.0 128.6 L396.8 128.9 L396.5 129.1 L396.2 129.4 L396.0 129.6 L395.8 129.9 L395.5 130.1 L395.2 130.4 L395.0 130.6 L394.8 130.9 L394.5 131.2 L394.2 131.5 L394.0 131.7 L393.8 132.0 L393.5 132.2 L393.3 132.5 L393.1 132.8 L392.9 133.0 L392.6 133.2 L392.5 133.5 L392.2 133.8 L392.0 134.0 L391.8 134.3 L391.5 134.6 L391.2 134.9 L391.0 135.2 L390.8 135.5 L390.6 135.8 L390.4 136.0 L390.2 136.3 L390.0 136.7 L389.8 137.0 L389.7 137.2 L389.5 137.6 L389.3 138.0 L389.2 138.2 L389.0 138.6 L388.8 139.0 L388.7 139.2 L388.5 139.6 L388.3 140.0 L388.2 140.2 L388.0 140.6 L387.8 141.0 L387.7 141.2 L387.5 141.5 L387.2 142.0 L387.2 142.2 L387.0 142.6 L386.8 143.0 L386.7 143.2 L386.5 143.6 L386.3 144.0 L386.2 144.2 L386.0 144.5 L385.8 144.9 L385.5 145.2 L385.4 145.5 L385.2 145.8 L385.0 146.1 L384.8 146.5 L384.7 146.8 L384.5 147.1 L384.3 147.5 L384.2 147.8 L384.0 148.2 L383.9 148.5 L383.8 149.0 L383.7 149.2 L383.5 149.8 L383.5 150.0 L383.3 150.5 L383.1 150.8 L382.8 151.0 L382.6 151.2 L382.4 151.5 L382.1 151.8 L381.9 152.0 L381.7 152.2 L381.5 152.5 L381.2 152.8 L381.0 153.0 L380.8 153.3 L380.5 153.5 L380.2 153.8 L380.0 154.1 L379.8 154.4 L379.5 154.7 L379.3 155.0 L379.1 155.2 L378.9 155.5 L378.7 155.8 L378.5 156.2 L378.3 156.5 L378.1 156.8 L377.9 157.0 L377.7 157.2 L377.5 157.5 L377.2 157.8 L377.0 158.1 L376.8 158.4 L376.5 158.8 L376.3 159.0 L376.0 159.2 L375.8 159.4 L375.5 159.7 L375.3 160.0 L375.1 160.2 L374.9 160.5 L374.7 160.8 L374.5 161.0 L374.2 161.3 L374.0 161.6 L373.8 161.8 L373.5 162.1 L373.2 162.4 L373.0 162.8 L373.0 163.0 L372.7 163.2 L372.5 163.5 L372.2 163.9 L372.0 164.2 L371.8 164.5 L371.5 164.8 L371.3 165.0 L371.1 165.2 L370.9 165.5 L370.6 165.8 L370.4 166.0 L370.0 166.2 L369.8 166.5 L369.6 166.8 L369.4 167.0 L369.2 167.2 L368.9 167.5 L368.7 167.8 L368.6 168.2 L368.6 168.8 L368.7 169.2 L368.5 169.7 L368.2 169.5 L367.8 169.2 L367.5 169.1 L367.2 168.9 L366.8 168.9 L366.2 168.9 L365.9 168.8 L365.5 168.6 L365.2 168.4 L365.0 168.2 L364.8 168.0 L364.5 167.7 L364.2 167.4 L364.1 167.0 L364.0 166.8 L363.9 166.2 L363.8 165.8 L363.8 165.5 L363.7 165.0 L363.5 164.6 L363.2 164.4 L362.8 164.3 L362.2 164.4 L362.0 164.5 L361.5 164.7 L361.2 164.9 L361.0 165.0 L360.6 165.2 L360.2 165.5 L360.0 165.6 L359.8 165.8 L359.4 166.0 L359.0 166.2 L358.8 166.4 L358.5 166.5 L358.1 166.8 L357.8 167.0 L357.5 167.1 L357.2 167.3 L356.9 167.5 L356.5 167.7 L356.2 167.8 L355.9 168.0 L355.5 168.2 L355.2 168.4 L355.0 168.5 L354.6 168.8 L354.2 168.9 L354.0 169.1 L353.7 169.2 L353.3 169.5 L353.0 169.7 L352.8 169.9 L352.4 170.0 L352.0 170.2 L351.8 170.4 L351.5 170.5 L351.1 170.8 L350.8 171.0 L350.5 171.1 L350.2 171.3 L349.9 171.5 L349.5 171.7 L349.2 171.9 L349.0 172.1 L348.7 172.2 L348.2 172.5 L348.0 172.5 L348.0 172.5" fill="none" stroke="#000" stroke-width="1.05" stroke-linejoin="round"/>
<path d="M356.5 164.3 L356.0 164.3 L355.8 164.1 L355.7 163.8 L355.6 163.2 L355.5 162.8 L355.4 162.5 L355.2 162.1 L355.0 161.9 L354.8 161.7 L354.4 161.5 L354.5 161.2 L354.8 160.8 L354.9 160.5 L355.0 160.2 L355.2 159.8 L355.2 159.5 L355.4 159.0 L355.5 158.5 L355.5 158.2 L355.5 157.8 L355.2 157.5 L354.8 157.6 L354.5 157.8 L354.1 158.0 L353.8 158.2 L353.5 158.4 L353.2 158.6 L353.0 158.8 L352.6 159.0 L352.2 159.2 L352.0 159.4 L351.8 159.7 L351.5 159.9 L351.2 160.1 L350.8 160.0 L350.7 159.8 L350.8 159.5 L351.0 159.1 L351.2 158.8 L351.3 158.5 L351.4 158.0 L351.5 157.8 L351.8 157.3 L351.9 157.0 L352.0 156.7 L352.2 156.2 L352.3 156.0 L352.5 155.5 L352.6 155.2 L352.8 155.0 L353.0 154.7 L353.2 154.4 L353.5 154.0 L353.7 153.8 L353.9 153.5 L354.1 153.2 L354.2 153.0 L354.5 152.6 L354.7 152.2 L354.9 152.0 L355.2 151.8 L355.4 151.5 L355.6 151.2 L355.8 151.0 L356.1 150.8 L356.3 150.5 L356.5 150.2 L356.8 150.0 L357.0 149.7 L357.2 149.4 L357.5 149.1 L357.8 148.8 L357.9 148.5 L358.1 148.2 L358.3 148.0 L358.5 147.7 L358.8 147.3 L359.0 147.0 L359.1 146.8 L359.3 146.5 L359.5 146.2 L359.8 145.9 L360.0 145.5 L360.2 145.2 L360.3 145.0 L360.5 144.8 L360.8 144.4 L361.0 144.0 L361.2 143.8 L361.4 143.5 L361.6 143.2 L361.8 143.0 L362.0 142.6 L362.2 142.3 L362.4 142.0 L362.6 141.8 L362.8 141.5 L363.0 141.1 L363.2 140.8 L363.3 140.5 L363.5 140.2 L363.8 139.8 L364.0 139.5 L364.2 139.2 L364.3 139.0 L364.5 138.7 L364.8 138.3 L364.9 138.0 L365.1 137.8 L365.2 137.5 L365.5 137.1 L365.7 136.8 L365.9 136.5 L366.1 136.2 L366.3 136.0 L366.6 135.8 L366.8 135.5 L367.0 135.2 L367.2 134.8 L367.5 134.5 L367.7 134.2 L367.9 134.0 L368.1 133.8 L368.2 133.5 L368.5 133.1 L368.8 132.8 L369.0 132.5 L369.2 132.2 L369.4 132.0 L369.6 131.8 L369.8 131.5 L370.0 131.2 L370.2 131.0 L370.5 130.7 L370.8 130.3 L371.0 130.0 L371.2 129.8 L371.4 129.5 L371.6 129.2 L371.8 129.0 L372.0 128.8 L372.3 128.5 L372.5 128.2 L372.8 127.9 L373.0 127.5 L373.2 127.2 L373.4 127.0 L373.6 126.8 L373.8 126.5 L374.0 126.2 L374.2 125.9 L374.5 125.6 L374.8 125.3 L375.0 125.0 L375.2 124.8 L375.4 124.5 L375.6 124.2 L375.8 124.0 L376.0 123.6 L376.2 123.3 L376.4 123.0 L376.6 122.8 L376.8 122.5 L377.0 122.1 L377.2 121.8 L377.4 121.5 L377.5 121.2 L377.8 120.9 L378.0 120.5 L378.1 120.2 L378.3 120.0 L378.5 119.7 L378.8 119.3 L378.9 119.0 L379.1 118.8 L379.3 118.5 L379.5 118.1 L379.7 117.8 L379.9 117.5 L380.0 117.2 L380.2 116.9 L380.5 116.8 L381.0 116.5 L381.2 116.4 L381.5 116.2 L382.0 116.1 L382.2 116.0 L382.8 115.8 L383.0 115.7 L383.5 115.7 L383.7 116.0 L383.7 116.5 L383.6 117.0 L383.5 117.3 L383.4 117.8 L383.3 118.2 L383.2 118.7 L383.2 119.0 L383.2 119.5 L383.1 120.0 L383.0 120.4 L382.8 120.7 L382.5 120.9 L382.2 121.1 L382.0 121.3 L381.8 121.6 L381.5 121.8 L381.2 122.1 L381.0 122.3 L380.7 122.5 L380.5 122.8 L380.2 123.0 L380.0 123.3 L379.8 123.5 L379.5 123.8 L379.2 124.0 L379.0 124.2 L378.7 124.5 L378.5 124.8 L378.2 125.1 L378.0 125.3 L377.8 125.7 L377.5 126.0 L377.3 126.2 L377.1 126.5 L376.9 126.8 L376.7 127.0 L376.5 127.3 L376.3 127.8 L376.1 128.0 L375.9 128.2 L375.7 128.5 L375.5 128.8 L375.2 129.1 L375.0 129.5 L374.8 129.8 L374.6 130.0 L374.4 130.2 L374.2 130.5 L374.0 131.0 L373.8 131.2 L373.7 131.5 L373.5 131.8 L373.2 132.2 L373.1 132.5 L372.9 132.8 L372.7 133.0 L372.5 133.2 L372.2 133.6 L372.0 134.0 L371.9 134.2 L371.8 134.5 L371.5 134.9 L371.3 135.2 L371.2 135.5 L371.0 135.8 L370.8 136.1 L370.5 136.4 L370.3 136.8 L370.1 137.0 L369.9 137.2 L369.7 137.5 L369.5 137.8 L369.2 138.2 L369.2 138.5 L369.0 139.0 L368.8 139.2 L368.5 139.4 L368.2 139.7 L368.0 139.9 L367.8 140.1 L367.5 140.3 L367.2 140.6 L367.0 140.8 L366.8 141.2 L366.5 141.4 L366.2 141.6 L366.0 141.9 L365.8 142.1 L365.5 142.4 L365.2 142.7 L365.0 142.9 L364.8 143.2 L364.5 143.5 L364.3 143.8 L364.1 144.0 L364.0 144.2 L363.8 144.5 L363.5 144.9 L363.2 145.2 L363.0 145.5 L362.8 145.8 L362.6 146.0 L362.5 146.2 L362.2 146.5 L362.0 146.8 L361.8 147.1 L361.5 147.5 L361.3 147.8 L361.1 148.0 L360.9 148.2 L360.7 148.5 L360.5 148.8 L360.2 149.1 L360.0 149.4 L359.8 149.8 L359.6 150.0 L359.4 150.2 L359.2 150.5 L359.0 150.9 L358.8 151.2 L358.7 151.5 L358.5 152.0 L358.4 152.2 L358.2 152.7 L358.1 153.0 L358.0 153.5 L358.2 153.9 L358.8 153.8 L359.0 153.7 L359.4 153.5 L359.8 153.3 L360.0 153.1 L360.2 152.9 L360.5 152.8 L360.8 152.5 L361.1 152.2 L361.3 152.0 L361.5 151.8 L361.8 151.5 L362.0 151.2 L362.2 150.9 L362.5 150.6 L362.8 150.3 L363.0 150.0 L363.2 149.8 L363.4 149.5 L363.6 149.2 L363.8 149.0 L364.0 148.7 L364.2 148.4 L364.5 148.1 L364.7 147.8 L364.9 147.5 L365.2 147.2 L365.4 147.0 L365.6 146.8 L365.8 146.5 L366.0 146.2 L366.2 145.9 L366.5 145.6 L366.8 145.3 L367.0 145.0 L367.2 144.8 L367.4 144.5 L367.6 144.2 L367.8 144.0 L368.0 143.5 L368.2 143.2 L368.3 143.0 L368.5 142.6 L368.7 142.2 L368.9 142.0 L369.1 141.8 L369.2 141.5 L369.5 141.0 L369.6 140.8 L369.8 140.4 L369.9 140.0 L370.2 139.8 L370.5 139.6 L370.8 139.4 L371.0 139.2 L371.2 138.9 L371.5 138.6 L371.8 138.4 L372.0 138.1 L372.2 137.9 L372.5 137.6 L372.8 137.3 L373.0 137.1 L373.2 136.8 L373.5 136.6 L373.8 136.4 L374.0 136.1 L374.2 135.9 L374.5 135.7 L374.8 135.4 L375.0 135.1 L375.2 134.8 L375.5 134.5 L375.7 134.2 L376.0 134.0 L376.2 133.8 L376.4 133.5 L376.7 133.2 L376.9 133.0 L377.2 132.8 L377.4 132.5 L377.6 132.2 L377.8 132.0 L378.0 131.7 L378.2 131.4 L378.5 131.1 L378.8 130.8 L378.9 130.5 L379.2 130.2 L379.4 130.0 L379.6 129.8 L379.8 129.5 L380.0 129.2 L380.2 128.9 L380.5 128.6 L380.7 128.2 L380.9 128.0 L381.1 127.8 L381.3 127.5 L381.5 127.2 L381.8 126.9 L382.0 126.5 L382.2 126.2 L382.3 126.0 L382.5 125.7 L382.8 125.3 L383.0 125.0 L383.1 124.8 L383.3 124.5 L383.5 124.1 L383.7 123.8 L383.9 123.5 L384.0 123.2 L384.2 122.9 L384.5 122.5 L384.6 122.2 L385.0 122.0 L385.2 121.9 L385.5 121.7 L385.8 121.5 L386.0 121.2 L386.2 121.0 L386.5 120.7 L386.8 120.5 L387.0 120.2 L387.2 120.0 L387.5 119.8 L387.8 119.5 L388.0 119.2 L388.2 119.0 L388.5 118.7 L388.8 118.3 L389.0 118.0 L389.2 117.8 L389.4 117.5 L389.6 117.2 L389.8 117.0 L390.0 116.7 L390.2 116.4 L390.5 116.0 L390.6 115.8 L390.8 115.5 L391.0 115.1 L391.2 114.8 L391.4 114.5 L391.5 114.2 L391.8 113.9 L392.0 113.5 L392.2 113.2 L392.3 113.0 L392.5 112.8 L392.8 112.5 L393.0 112.2 L393.3 112.0 L393.5 111.8 L393.8 111.5 L394.0 111.2 L394.2 111.0 L394.5 110.7 L394.8 110.5 L395.0 110.2 L395.3 110.0 L395.6 109.8 L395.8 109.5 L396.1 109.2 L396.4 109.0 L396.7 108.8 L396.9 108.5 L397.2 108.2 L397.5 108.0 L397.8 107.8 L398.0 107.6 L398.2 107.4 L398.5 107.2 L398.8 107.0 L399.0 106.8 L399.4 106.5 L399.7 106.2 L400.0 106.1 L400.2 105.9 L400.5 105.8 L401.0 105.5 L401.2 105.4 L401.5 105.2 L401.9 105.0 L402.2 104.9 L402.5 105.1 L403.0 105.2 L403.5 105.1 L403.8 105.0 L404.2 104.8 L404.5 104.6 L404.8 104.5 L405.2 104.3 L405.5 104.2 L405.8 104.0 L406.2 103.8 L406.5 103.7 L407.0 103.7 L407.3 103.8 L407.5 104.0 L407.8 104.3 L408.0 104.7 L408.2 105.0 L408.5 105.2 L408.8 105.3 L409.2 105.3 L409.8 105.3 L410.0 105.2 L410.5 105.0 L410.8 104.9 L411.0 104.7 L411.4 104.5 L411.8 104.3 L412.0 104.1 L412.2 103.9 L412.7 103.8 L413.0 103.7 L413.5 103.7 L414.0 103.7 L414.2 103.8 L414.5 104.0 L414.5 104.5 L414.3 104.8 L414.0 105.0 L413.8 105.2 L413.5 105.5 L413.2 105.7 L413.1 106.0 L412.8 106.2 L412.5 106.5 L412.3 106.8 L412.0 107.0 L411.8 107.2 L411.5 107.4 L411.2 107.6 L411.0 107.8 L410.5 107.8 L410.2 107.7 L409.8 107.6 L409.2 107.5 L408.8 107.7 L408.5 107.9 L408.2 108.1 L408.0 108.3 L407.7 108.5 L407.5 108.8 L407.2 109.0 L406.8 109.2 L406.5 109.5 L406.2 109.7 L406.0 109.9 L405.8 110.2 L405.5 110.4 L405.2 110.6 L405.0 110.8 L404.8 111.1 L404.5 111.4 L404.2 111.6 L404.0 111.8 L403.8 112.1 L403.5 112.3 L403.2 112.6 L403.0 112.9 L402.8 113.2 L402.5 113.5 L402.3 113.8 L402.1 114.0 L401.9 114.2 L401.7 114.5 L401.5 114.8 L401.2 115.1 L401.0 115.5 L400.9 115.8 L400.7 116.0 L400.5 116.2 L400.2 116.5 L400.0 116.8 L399.8 117.1 L399.5 117.4 L399.2 117.7 L399.0 117.9 L398.8 118.1 L398.5 118.4 L398.2 118.7 L398.0 118.9 L397.8 119.2 L397.5 119.5 L397.3 119.8 L397.1 120.0 L396.9 120.2 L396.7 120.5 L396.5 120.8 L396.2 121.0 L395.9 121.2 L395.6 121.5 L395.4 121.8 L395.2 122.0 L394.9 122.2 L394.7 122.5 L394.5 122.8 L394.2 123.0 L394.0 123.3 L393.8 123.5 L393.5 123.8 L393.2 124.1 L393.0 124.3 L392.8 124.6 L392.5 124.8 L392.2 125.0 L392.0 125.2 L391.7 125.5 L391.4 125.8 L391.1 126.0 L390.8 126.2 L390.4 126.0 L390.5 125.5 L390.6 125.2 L390.8 124.9 L390.9 124.5 L391.0 124.2 L391.2 123.8 L391.4 123.5 L391.5 123.2 L391.8 122.8 L391.9 122.5 L392.1 122.2 L392.2 121.9 L392.4 121.5 L392.6 121.2 L392.8 120.9 L392.9 120.5 L393.1 120.2 L393.2 119.9 L393.4 119.5 L393.3 119.0 L393.0 119.0 L392.8 119.2 L392.5 119.5 L392.2 119.7 L392.0 120.0 L391.8 120.2 L391.5 120.5 L391.3 120.8 L391.0 121.0 L390.8 121.2 L390.6 121.5 L390.4 121.8 L390.2 122.0 L389.9 122.2 L389.7 122.5 L389.5 122.8 L389.2 123.0 L389.0 123.3 L388.8 123.6 L388.5 123.9 L388.2 124.2 L388.1 124.5 L387.9 124.8 L387.7 125.0 L387.5 125.3 L387.2 125.6 L387.0 125.9 L386.8 126.2 L386.6 126.5 L386.4 126.8 L386.2 127.0 L386.0 127.3 L385.8 127.7 L385.5 128.0 L385.3 128.2 L385.2 128.5 L385.0 128.8 L384.8 129.1 L384.5 129.4 L384.3 129.8 L384.1 130.0 L383.9 130.2 L383.7 130.5 L383.5 130.9 L383.2 131.2 L383.1 131.5 L383.0 131.8 L382.8 132.2 L382.7 132.5 L382.8 132.8 L382.8 133.2 L382.8 133.3 L383.0 133.5 L383.5 133.5 L383.8 133.4 L384.2 133.4 L384.8 133.4 L385.0 133.7 L385.1 134.0 L385.0 134.5 L385.0 135.0 L384.9 135.2 L384.9 135.8 L385.0 136.1 L385.1 136.5 L385.5 136.7 L386.0 136.6 L386.5 136.6 L387.0 136.6 L387.2 136.8 L387.3 137.2 L387.3 137.8 L387.2 138.0 L387.0 138.5 L386.9 138.8 L386.8 139.1 L386.6 139.5 L386.4 139.8 L386.2 140.1 L386.0 140.5 L385.9 140.8 L385.8 141.0 L385.5 141.5 L385.4 141.8 L385.2 142.0 L385.0 142.4 L384.8 142.8 L384.7 143.0 L384.5 143.2 L384.2 143.6 L384.0 144.0 L383.8 144.2 L383.6 144.5 L383.5 144.8 L383.2 145.1 L383.0 145.4 L382.8 145.8 L382.7 146.0 L382.5 146.3 L382.2 146.7 L382.1 147.0 L382.0 147.2 L381.8 147.8 L381.7 148.0 L381.5 148.3 L381.3 148.8 L381.2 149.0 L381.0 149.2 L380.8 149.5 L380.5 149.8 L380.2 150.1 L380.0 150.3 L379.8 150.6 L379.5 150.9 L379.2 151.2 L379.0 151.4 L378.8 151.7 L378.5 152.0 L378.3 152.2 L378.1 152.5 L377.9 152.8 L377.7 153.0 L377.5 153.3 L377.2 153.6 L377.0 153.9 L376.8 154.2 L376.6 154.5 L376.4 154.8 L376.2 155.0 L376.0 155.3 L375.8 155.6 L375.5 155.9 L375.2 156.2 L375.0 156.5 L374.8 156.8 L374.6 157.0 L374.4 157.2 L374.1 157.5 L373.9 157.8 L373.7 158.0 L373.5 158.2 L373.2 158.5 L373.0 158.8 L372.8 159.1 L372.5 159.4 L372.2 159.7 L372.0 159.9 L371.8 160.2 L371.5 160.5 L371.3 160.8 L371.1 161.0 L370.9 161.2 L370.7 161.5 L370.5 161.8 L370.2 162.0 L369.9 162.2 L369.5 162.3 L369.5 162.1 L369.6 161.8 L369.8 161.3 L369.9 161.0 L370.0 160.8 L370.2 160.4 L370.5 160.0 L370.6 159.8 L370.8 159.5 L371.0 159.0 L371.1 158.8 L371.3 158.5 L371.5 158.0 L371.6 157.8 L371.8 157.5 L372.0 157.0 L372.1 156.8 L372.3 156.5 L372.5 156.0 L372.6 155.8 L372.8 155.4 L372.9 155.0 L373.0 154.7 L373.2 154.2 L373.3 154.0 L373.5 153.6 L373.6 153.2 L373.8 152.9 L373.9 152.5 L374.0 152.2 L374.2 151.8 L374.3 151.5 L374.2 151.2 L374.0 151.3 L373.8 151.6 L373.5 151.8 L373.2 152.0 L373.0 152.2 L372.7 152.5 L372.4 152.8 L372.2 153.0 L371.9 153.2 L371.7 153.5 L371.4 153.8 L371.1 154.0 L370.8 154.2 L370.6 154.5 L370.4 154.8 L370.1 155.0 L369.9 155.2 L369.7 155.5 L369.5 155.8 L369.2 156.0 L369.0 156.3 L368.8 156.6 L368.5 156.9 L368.2 157.2 L368.0 157.5 L367.9 157.8 L367.7 158.0 L367.5 158.2 L367.2 158.6 L367.0 158.9 L366.8 159.2 L366.5 159.5 L366.3 159.8 L366.1 160.0 L365.9 160.2 L365.7 160.5 L365.4 160.8 L365.2 161.0 L365.0 161.2 L364.8 161.6 L364.5 161.8 L364.1 162.0 L363.8 162.2 L363.5 162.3 L363.2 162.5 L362.8 162.7 L362.5 162.8 L362.2 162.8 L361.9 162.5 L361.8 162.1 L361.6 161.8 L361.2 161.5 L361.0 161.5 L360.8 161.6 L360.3 161.8 L360.0 161.9 L359.8 162.1 L359.5 162.3 L359.2 162.5 L358.9 162.8 L358.5 163.0 L358.2 163.2 L358.0 163.4 L357.8 163.6 L357.5 163.8 L357.1 164.0 L356.8 164.2 L356.5 164.3 L356.5 164.3" fill="none" stroke="#000" stroke-width="1.05" stroke-linejoin="round" stroke-dasharray="3.5 2.2"/>
<path d="M386.8 112.1 L386.2 112.1 L386.1 111.8 L386.2 111.2 L386.5 111.0 L386.5 110.7 L386.8 110.4 L387.0 110.1 L387.2 109.8 L387.5 109.5 L387.7 109.2 L387.9 109.0 L388.1 108.8 L388.5 108.6 L388.9 108.8 L389.0 109.0 L389.0 109.5 L388.9 109.8 L388.7 110.0 L388.5 110.3 L388.2 110.6 L388.0 111.0 L387.8 111.2 L387.5 111.5 L387.3 111.8 L387.0 112.0 L386.8 112.1 L386.8 112.1" fill="none" stroke="#000" stroke-width="1.05" stroke-linejoin="round" stroke-dasharray="3.5 2.2"/>
<path d="M324.4 175.0 L326.0 172.0 L329.0 170.0 L332.1 169.3 L331.0 171.5 L328.0 174.0 L325.5 175.3 L324.4 175.0" fill="none" stroke="#000" stroke-width="1.05" stroke-linejoin="round"/>
<path d="M331.4 160.8 L335.0 161.5 L337.8 163.7 L339.2 166.0 L338.5 168.0 L336.4 169.3 L333.6 170.0 L332.0 170.7" fill="none" stroke="#000" stroke-width="1.05" stroke-linejoin="round"/>
<path d="M339.2 166.0 L341.5 166.2 L343.8 165.0" fill="none" stroke="#000" stroke-width="1.05" stroke-linejoin="round"/>
<path d="M333.6 170.7 L334.5 175.0 L336.4 180.6" fill="none" stroke="#000" stroke-width="1.05" stroke-linejoin="round"/>
<path d="M337.5 175.7 L335.8 178.5 L337.5 181.3 L340.4 178.5 L337.5 175.7" fill="none" stroke="#000" stroke-width="1.05" stroke-linejoin="round"/>
<path d="M339.2 180.6 L342.0 184.9" fill="none" stroke="#000" stroke-width="1.05" stroke-linejoin="round"/>
<path d="M340.6 179.2 L344.9 179.2" fill="none" stroke="#000" stroke-width="1.05" stroke-linejoin="round"/>
<path d="M320.5 185.5 L321.5 183.3 L323.5 183.0 L324.5 185.0 L323.0 186.7 L321.0 186.3" fill="none" stroke="#000" stroke-width="1.1550000000000002" stroke-linejoin="round"/>
<path d="M324.5 185.0 L326.0 183.0 L328.0 183.5 L328.6 185.5" fill="none" stroke="#000" stroke-width="1.1550000000000002" stroke-linejoin="round"/>
<path d="M322.5 191.5 L324.5 194.5" fill="none" stroke="#000" stroke-width="1.5750000000000002" stroke-linejoin="round"/>
<path d="M440.0 53.2 L445.5 47.6 L444.5 53.2 L440.0 53.2" fill="none" stroke="#000" stroke-width="1.05" stroke-linejoin="round"/>
<path d="M449.0 42.0 L451.0 40.0 L453.0 42.0 L451.0 44.0 L449.0 42.0" fill="none" stroke="#000" stroke-width="1.05" stroke-linejoin="round"/>
<path d="M457.5 35.3 L462.1 30.1 L464.5 28.4 L466.8 26.7 L469.0 23.2 L471.4 22.1" fill="none" stroke="#000" stroke-width="1.05" stroke-linejoin="round"/>
<path d="M463.3 31.5 L466.0 27.0 L469.0 29.0 L466.0 31.9 L463.3 31.5" fill="none" stroke="#000" stroke-width="1.05" stroke-linejoin="round"/>
<path d="M472.0 22.6 L474.3 19.2 L488.7 18.6 L492.1 19.8 L494.4 21.5 L492.1 23.8 L489.8 25.0 L474.8 24.4 L472.0 22.6" fill="none" stroke="#000" stroke-width="1.1550000000000002" stroke-linejoin="round"/>
<path d="M474.8 21.6 L486.4 22.2" fill="none" stroke="#000" stroke-width="1.6800000000000002" stroke-linejoin="round"/>
<path d="M494.4 21.5 L502.5 19.2" fill="none" stroke="#000" stroke-width="1.05" stroke-linejoin="round"/>
<path d="M494.4 21.5 L502.5 24.4" fill="none" stroke="#000" stroke-width="1.05" stroke-linejoin="round"/>
<circle cx="501.5" cy="19.7" r="1.1" fill="#1a1a1a"/>
<circle cx="502" cy="24" r="1.1" fill="#1a1a1a"/>
<path d="M381.0 123.6 L383.0 127.5 L385.8 129.4 L389.7 127.5 L392.6 124.6 L396.5 122.6 L400.4 119.7 L404.0 117.8 L406.0 113.0 L403.0 110.0 L400.0 113.5 L398.4 115.9 L395.5 118.8 L391.7 117.8 L388.8 113.9 L385.8 115.9 L383.0 115.9" fill="none" stroke="#000" stroke-width="1.05" stroke-linejoin="round"/>
<path d="M363.6 149.7 L370.0 145.5 L377.0 140.5 L384.0 135.5 L390.0 131.5 L396.5 128.4 L401.0 124.5" fill="none" stroke="#000" stroke-width="1.05" stroke-linejoin="round"/>
<path d="M366.0 155.0 L373.3 146.8" fill="none" stroke="#000" stroke-width="1.05" stroke-linejoin="round"/>
<path d="M373.3 148.5 L380.0 143.5 L386.0 139.0 L392.0 134.5 L398.4 130.4 L403.0 126.0" fill="none" stroke="#000" stroke-width="1.05" stroke-linejoin="round" stroke-dasharray="4 2.2"/>
<path d="M372.0 157.0 L377.1 151.7 L383.0 147.5 L389.0 142.5 L395.0 137.5 L400.4 133.3" fill="none" stroke="#000" stroke-width="1.05" stroke-linejoin="round" stroke-dasharray="3.5 2.5"/>
<path d="M358.0 171.0 L362.0 167.0 L366.0 164.0 L371.3 160.5 L376.0 156.5 L379.0 154.0" fill="none" stroke="#000" stroke-width="1.05" stroke-linejoin="round"/>
<path d="M400.0 95.0 L404.0 91.0 L408.0 86.5 L412.0 82.0 L416.0 77.5 L420.0 73.0 L424.0 69.0 L428.0 65.0" fill="none" stroke="#000" stroke-width="1.05" stroke-linejoin="round" stroke-dasharray="3 2"/>
<path d="M404.5 102.0 L409.0 98.5 L413.0 99.5 L416.0 103.0 L412.0 106.0 L408.0 104.5" fill="none" stroke="#000" stroke-width="1.05" stroke-linejoin="round"/>
<path d="M419.5 98.0 L421.0 103.0 L418.0 101.0" fill="none" stroke="#000" stroke-width="1.05" stroke-linejoin="round"/>
<path d="M416.8 82.3 L423.5 83.8" fill="none" stroke="#000" stroke-width="1.05" stroke-linejoin="round"/>
<path d="M416.0 75.5 L420.5 72.0 L421.0 76.0 L416.0 75.5" fill="none" stroke="#000" stroke-width="1.05" stroke-linejoin="round"/>
<path d="M410.5 80.5 L414.5 77.0 L415.0 80.5 L410.5 80.5" fill="none" stroke="#000" stroke-width="1.05" stroke-linejoin="round"/>
<path d="M425.0 69.0 L426.5 72.6 L428.0 69.5" fill="none" stroke="#000" stroke-width="1.05" stroke-linejoin="round"/>
<path d="M425.5 61.5 L428.0 60.0 L431.0 62.0 L430.0 65.5 L427.0 66.0 L425.5 63.5" fill="none" stroke="#000" stroke-width="1.05" stroke-linejoin="round"/>
<circle cx="433.9" cy="56.8" r="0.9" fill="#000"/>
<path d="M356.0 157.0 L354.6 160.0 L354.4 164.0 L355.5 167.0 L358.0 167.3 L357.8 163.0 L357.5 159.0 L356.0 157.0" fill="none" stroke="#000" stroke-width="1.05" stroke-linejoin="round"/>
<path d="M358.0 167.3 L360.3 165.8 L363.3 164.4 L366.3 161.4 L370.0 158.4 L373.7 155.4 L378.0 152.5" fill="none" stroke="#000" stroke-width="1.05" stroke-linejoin="round"/></g>
</g>
<text x="90.3" y="267.2" class="cap">control</text>
<text x="355.8" y="267.6" class="cap">v4</text>
<text x="387.8" y="267.6" class="cap" font-style="italic">vs</text>
<text x="422.3" y="267.6" class="cap">v6</text>
</svg>
</body></html>
